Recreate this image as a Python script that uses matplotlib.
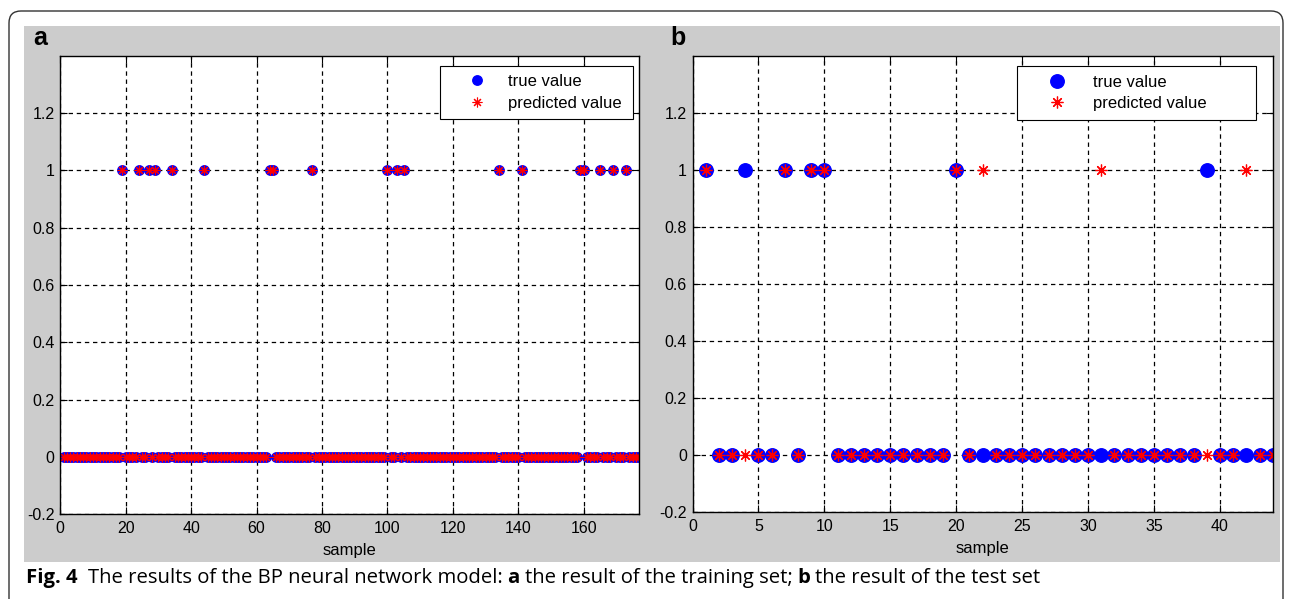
import numpy as np
import matplotlib
matplotlib.use('Agg')
import matplotlib.pyplot as plt
from matplotlib.patches import Rectangle, FancyBboxPatch
from matplotlib.transforms import IdentityTransform
from matplotlib.ticker import FuncFormatter

# training set: 177 samples, these have value 1 (true and predicted agree)
train_count = 177
train_ones = [19, 24, 27, 29, 34, 44, 64, 65, 77, 100, 103, 105,
              134, 141, 159, 160, 165, 169, 173]

# test set: 44 samples
test_count = 44
test_true_ones = [1, 4, 7, 9, 10, 20, 39]
test_pred_ones = [1, 7, 9, 10, 20, 22, 31, 42]

labels = ['true value', 'predicted value']
caption = [('Fig. 4', 'bold'),
           ('The results of the BP neural network model:', 'normal'),
           ('a', 'bold'), ('the result of the training set;', 'normal'),
           ('b', 'bold'), ('the result of the test set', 'normal')]

W, H = 1292, 599
plt.rcParams['font.family'] = ['Liberation Sans', 'DejaVu Sans']

fig = plt.figure(figsize=(W / 100, H / 100), dpi=100)
fig.patch.set_facecolor('white')

# outer rounded frame and grey panel background
fig.patches.append(FancyBboxPatch((9, -30), 1274, 30 + H - 11,
                                  boxstyle='round,pad=0,rounding_size=12',
                                  transform=IdentityTransform(), fc='none',
                                  ec='#333333', lw=1.0, zorder=-2))
fig.patches.append(Rectangle((24 / W, 1 - 562 / H), (1280 - 24) / W, (562 - 26) / H,
                             transform=fig.transFigure, fc='#cccccc', ec='none', zorder=-1))


def to_series(n, ones):
    y = np.zeros(n)
    y[np.array(ones) - 1] = 1
    return np.arange(1, n + 1), y


def style_axes(ax, xmax, xstep):
    ax.set_facecolor('white')
    ax.set_xlim(0, xmax)
    ax.set_ylim(-0.2, 1.4)
    ax.set_xticks(np.arange(0, xmax, xstep))
    ax.set_yticks(np.arange(-0.2, 1.21, 0.2))
    ax.yaxis.set_major_formatter(FuncFormatter(lambda v, p: '%g' % round(v, 1)))
    ax.grid(True, color='black', linestyle=(0, (3.5, 3)), linewidth=0.9)
    ax.tick_params(direction='in', top=True, right=True, length=5, width=0.8,
                   labelsize=11.5)
    ax.tick_params(axis='x', pad=5)
    ax.tick_params(axis='y', pad=4)
    for s in ax.spines.values():
        s.set_linewidth(1.0)
    ax.set_xlabel('sample', fontsize=12, labelpad=5)


# panel a
ax1 = fig.add_axes([60.3 / W, 1 - 514.3 / H, 579 / W, 458.6 / H])
x, y = to_series(train_count, train_ones)
ax1.plot(x, y, 'o', color='#0000ff', ms=6.8, mec='#0000ff', ls='none', label=labels[0])
ax1.plot(x, y, marker=(8, 2, 0), color='#ff0000', ms=7, mew=0.8, ls='none', label=labels[1])
style_axes(ax1, train_count, 20)
ax1.legend(loc='upper left', bbox_to_anchor=(0.6558, 0.5, 0.3333, 0.4776), mode='expand',
           fontsize=12, frameon=True, fancybox=False, edgecolor='black', framealpha=1,
           borderpad=0.5, handlelength=3.44, handletextpad=0.14, labelspacing=0.4,
           borderaxespad=0).get_frame().set_linewidth(0.8)

# panel b
ax2 = fig.add_axes([692.5 / W, 1 - 512.3 / H, 580.2 / W, 456.6 / H])
x, yt = to_series(test_count, test_true_ones)
x, yp = to_series(test_count, test_pred_ones)
ax2.plot(x, yt, 'o', color='#0000ff', ms=9.7, mec='#0000ff', ls='none', label=labels[0])
ax2.plot(x, yp, marker=(8, 2, 0), color='#ff0000', ms=8.5, mew=0.9, ls='none', label=labels[1])
style_axes(ax2, test_count, 5)
ax2.legend(loc='upper left', bbox_to_anchor=(0.5593, 0.5, 0.412, 0.477), mode='expand',
           fontsize=12, frameon=True, fancybox=False, edgecolor='black', framealpha=1,
           borderpad=0.5, handlelength=3.8, handletextpad=0.26, labelspacing=0.4,
           borderaxespad=0).get_frame().set_linewidth(0.8)

# panel letters
fig.text(33 / W, 1 - 45 / H, 'a', fontsize=18, weight='bold', va='baseline')
fig.text(670 / W, 1 - 45 / H, 'b', fontsize=18, weight='bold', va='baseline')

# caption, pieces laid out one after another
r = fig.canvas.get_renderer()
xpos = 26
for i, (txt, wt) in enumerate(caption):
    t = fig.text(xpos / W, 1 - 583 / H, txt, fontsize=14.6, weight=wt, va='baseline',
                 family=['Open Sans', 'DejaVu Sans'])
    xpos += t.get_window_extent(r).width + (10 if i == 0 else 5)

fig.savefig('out.png', dpi=100)
